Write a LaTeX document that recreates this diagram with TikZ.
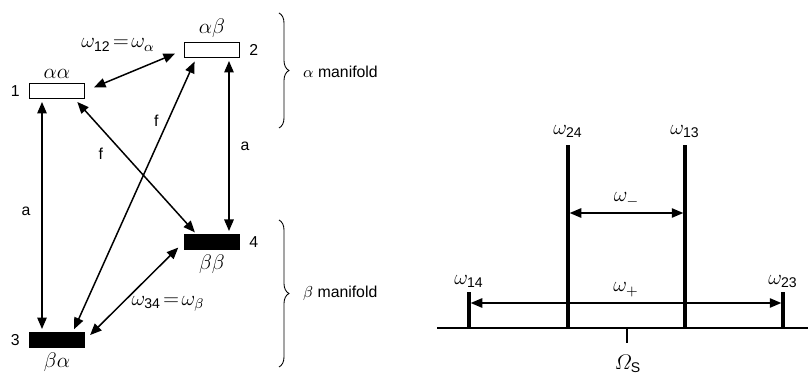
\documentclass[tikz,border=0pt]{standalone}
\usepackage{amsmath}
\usepackage{fontspec}
\setmainfont{Liberation Sans}
\usetikzlibrary{positioning,arrows.meta,calc,decorations.pathreplacing}

\begin{document}
\begin{tikzpicture}[
    x=0.02cm, y=-0.02cm,
    every node/.style={font=\small},
    level/.style={rectangle, draw, line width=0.7pt, minimum width=1.1cm, minimum height=0.31cm, inner sep=0pt},
    filled/.style={level, fill=black},
    greek/.style={font=\large, inner sep=1pt},
    arrow/.style={{Triangle[length=2.3mm,width=1.9mm]}-{Triangle[length=2.3mm,width=1.9mm]}, line width=0.85pt},
    specline/.style={line width=2pt},
    manibrace/.style={decorate, decoration={brace, amplitude=0.2cm}, line width=0.5pt}
]
\useasboundingbox (0,0) rectangle (808,374);

% Energy levels
\node[level] (l1) at (57,91) {};
\node[level] (l2) at (212,50) {};
\node[filled] (l3) at (57,340) {};
\node[filled] (l4) at (212,242) {};

% Level numbers and spin states
\node[left=0.06cm of l1] (n1) {1};
\node[right=0.06cm of l2] (n2) {2};
\node[left=0.06cm of l3] (n3) {3};
\node[right=0.06cm of l4] (n4) {4};
\node[greek, above=0.04cm of l1] (s1) {$\alpha\alpha$};
\node[greek, above=0.04cm of l2] (s2) {$\alpha\beta$};
\node[greek, below=0.04cm of l3] (s3) {$\beta\alpha$};
\node[greek, below=0.04cm of l4] (s4) {$\beta\beta$};

% Transitions
\draw[arrow, shorten <=1.5pt, shorten >=1.5pt] ([xshift=-0.3cm]l1.south) -- ([xshift=-0.3cm]l3.north)
    node[pos=0.48, left=0.1cm] (a13) {a};
\draw[arrow, shorten <=1.5pt, shorten >=1.5pt] ([xshift=0.34cm]l2.south) -- ([xshift=0.34cm]l4.north)
    node[pos=0.5, right=0.1cm] (a24) {a};
\draw[arrow, shorten <=2pt, shorten >=1pt] ([xshift=0.36cm]l1.south) -- ([xshift=-0.32cm]l4.north)
    node[pos=0.3, below left=0.05cm] (f14) {f};
\draw[arrow, shorten <=2pt, shorten >=1.5pt] ([xshift=-0.32cm]l2.south) -- ([xshift=0.32cm]l3.north)
    node[pos=0.23, left=0.05cm] (f23) {f};
\draw[arrow, shorten <=5.5pt, shorten >=5.5pt] (l1.east) -- (l2.west);
\draw[arrow, shorten <=4pt, shorten >=4.5pt] (l3.east) -- (l4.west);
\node[greek] (w12) at (118,45) {$\omega_{\text{12}}\!=\!\omega_{\alpha}$};
\node[greek] (w34) at (168,304) {$\omega_{\text{34}}\!=\!\omega_{\beta}$};

% Manifolds
\draw[manibrace] (279,13) -- (279,128);
\draw[manibrace] (279,220) -- (279,367);
\node[anchor=west] (mana) at (297,72) {$\alpha$ manifold};
\node[anchor=west] (manb) at (297,293) {$\beta$ manifold};

% Spectrum
\coordinate (base0) at (437,328);
\coordinate (base1) at (808,328);
\draw[line width=0.7pt] (base0) -- (base1);
\coordinate (cen) at (627,328);
\coordinate (cent) at (627,343);
\draw[line width=0.7pt] (cen) -- (cent);
\node[greek, anchor=north] (omS) at (628,353) {$\varOmega_{\text{S}}$};

\coordinate (b14) at (469,328); \coordinate (t14) at (469,292);
\coordinate (b24) at (568,328); \coordinate (t24) at (568,145);
\coordinate (b13) at (685,328); \coordinate (t13) at (685,145);
\coordinate (b23) at (783,328); \coordinate (t23) at (783,292);
\draw[specline] (b14) -- (t14);
\draw[specline] (b24) -- (t24);
\draw[specline] (b13) -- (t13);
\draw[specline] (b23) -- (t23);
\node[greek, above=0.04cm of t14] (w14) {$\omega_{\text{14}}$};
\node[greek, above=0.1cm of t24] (w24) {$\omega_{\text{24}}$};
\node[greek, above=0.1cm of t13] (w13) {$\omega_{\text{13}}$};
\node[greek, above=0.04cm of t23] (w23) {$\omega_{\text{23}}$};

% Splittings
\coordinate (m24) at (568,213); \coordinate (m13) at (685,213);
\draw[arrow, line width=0.7pt, shorten <=1pt, shorten >=1pt] (m24) -- (m13)
    node[midway, above=0.08cm, greek] (wm) {$\omega_{-}$};
\coordinate (p14) at (469,303); \coordinate (p23) at (783,303);
\draw[arrow, line width=0.7pt, shorten <=1pt, shorten >=1pt] (p14) -- (p23)
    node[midway, above=0.08cm, greek] (wp) {$\omega_{+}$};

\end{tikzpicture}
\end{document}
